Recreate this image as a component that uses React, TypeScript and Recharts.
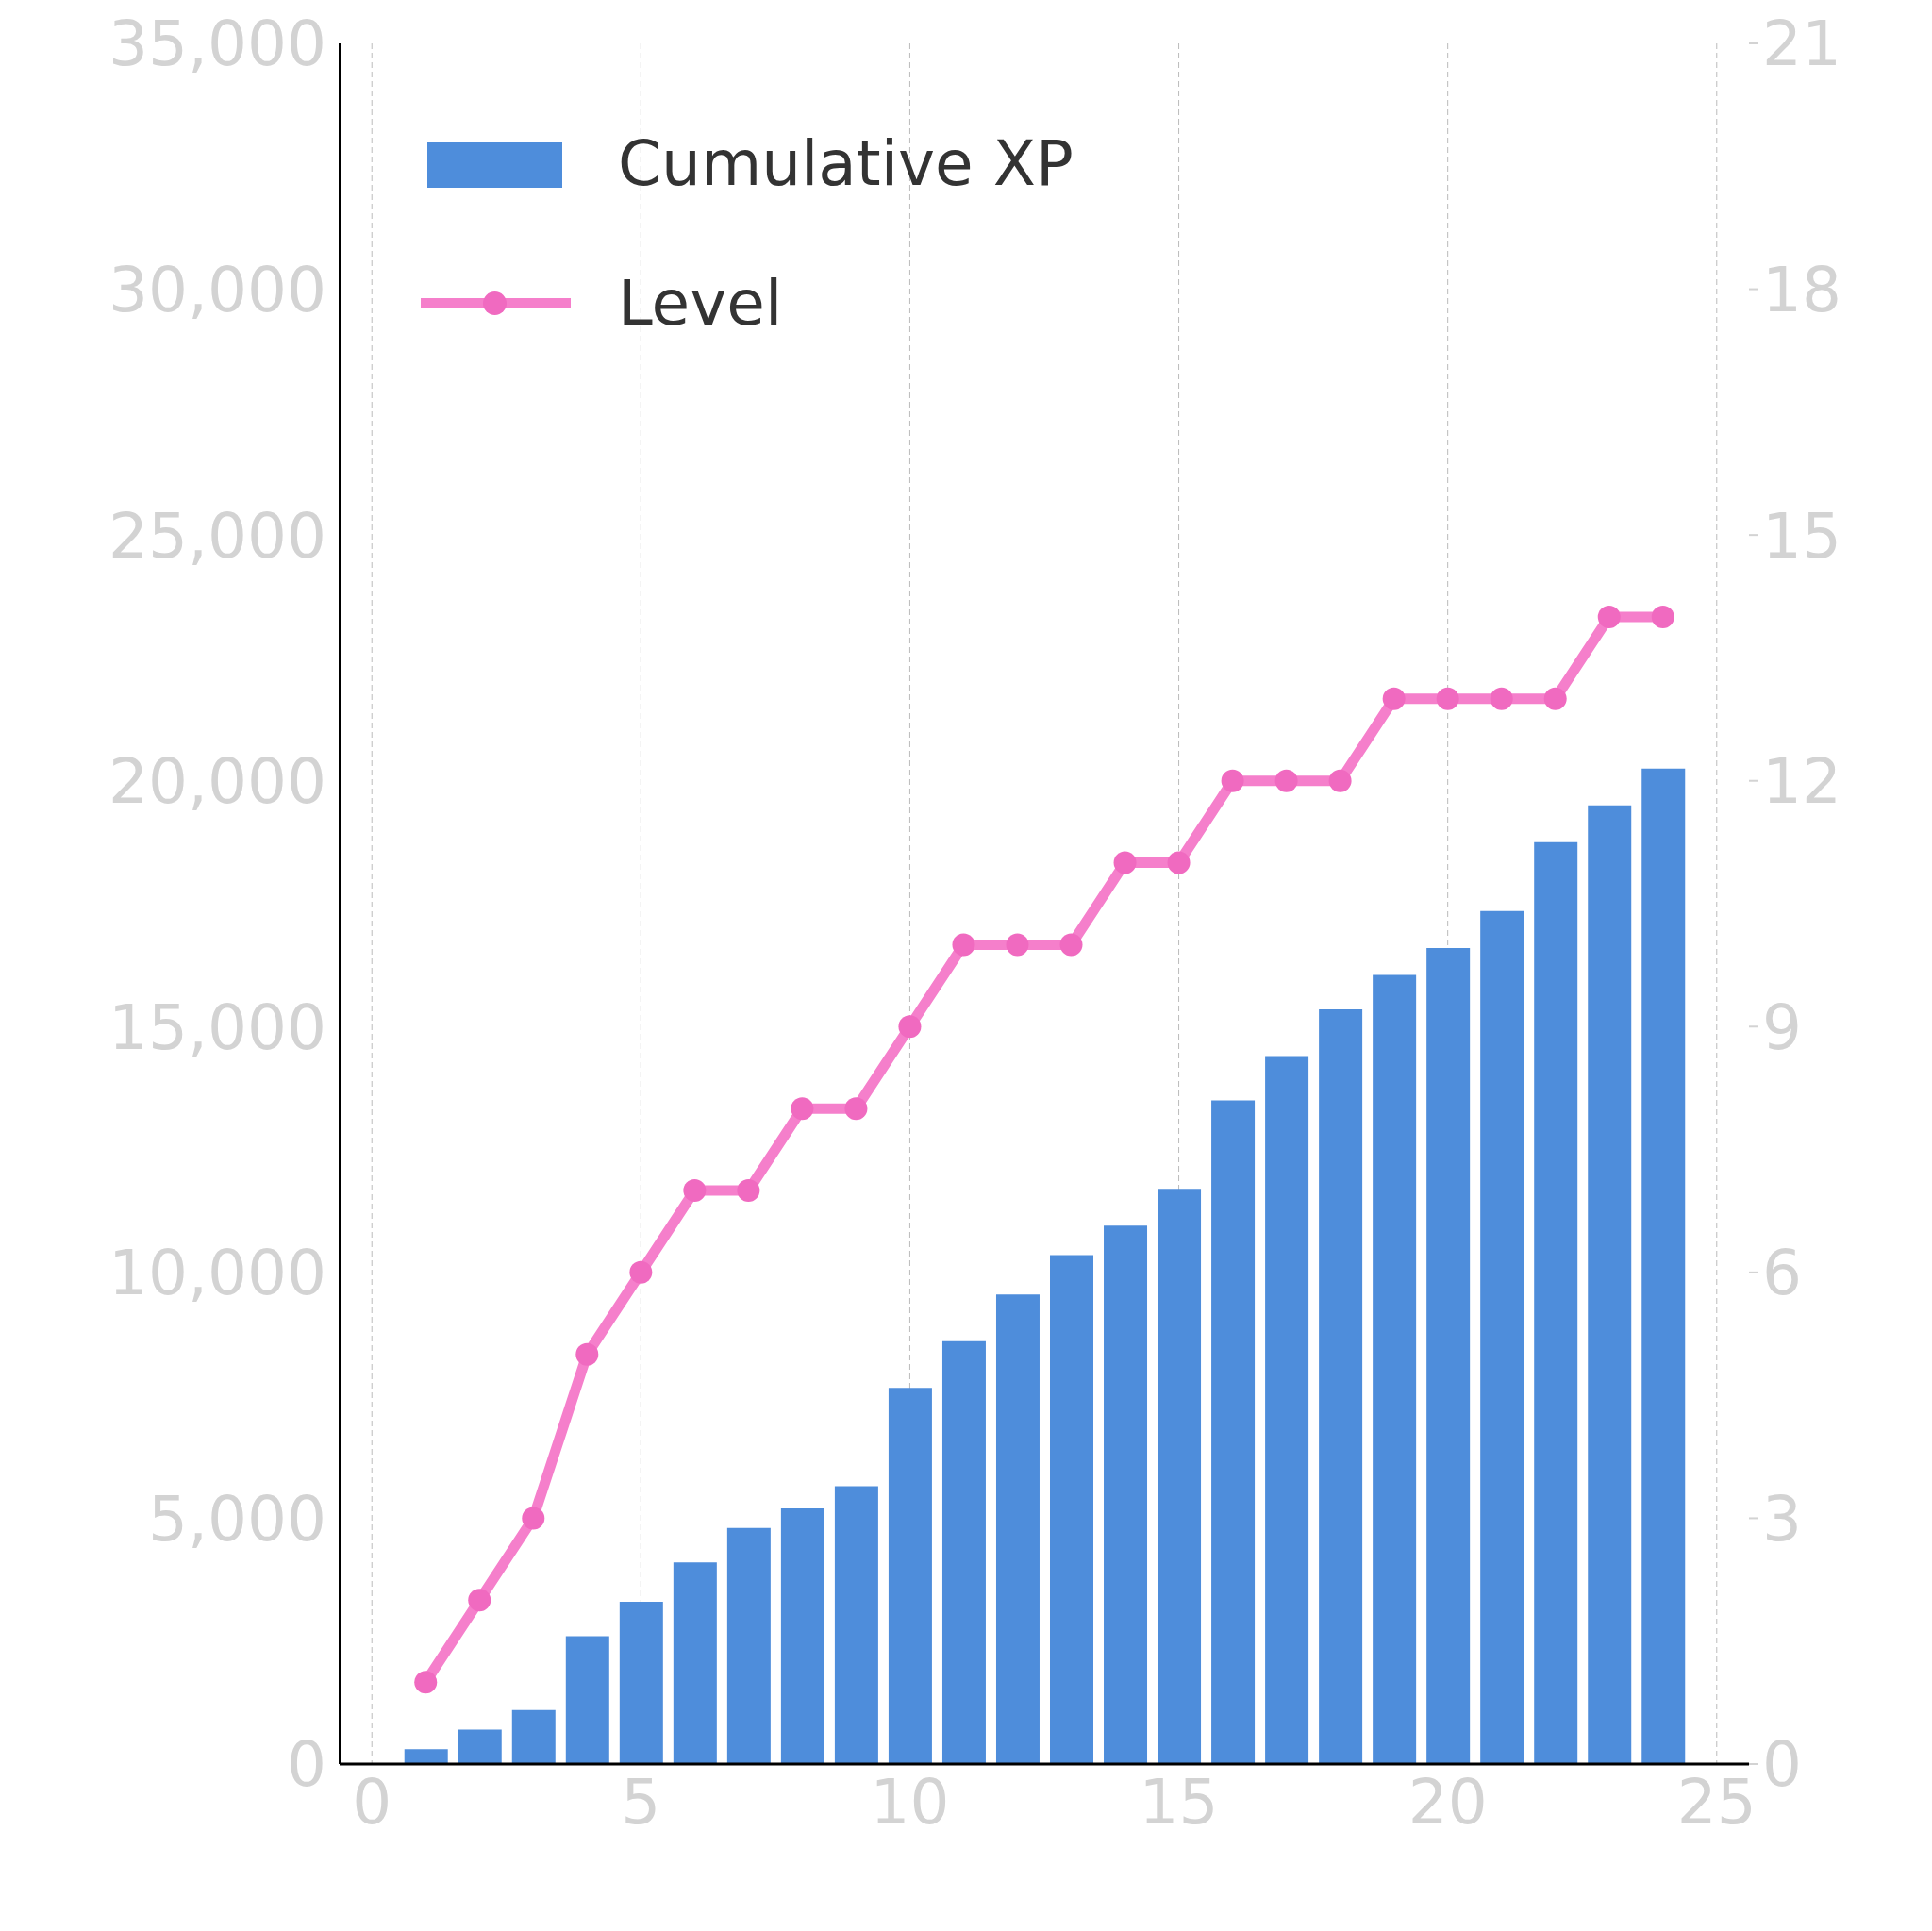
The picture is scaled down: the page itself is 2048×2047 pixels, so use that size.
import { Bar, CartesianGrid, ComposedChart, Line, XAxis, YAxis } from "recharts";

const levels = [1, 2, 3, 4, 5, 6, 7, 8, 9, 10, 11, 12, 13, 14, 15, 16, 17, 18, 19, 20, 21, 22, 23, 24];
const cumulativeXp = [
  300, 700, 1100, 2600, 3300, 4100, 4800, 5200, 5650, 7650, 8600, 9550,
  10350, 10950, 11700, 13500, 14400, 15350, 16050, 16600, 17350, 18750, 19500, 20250,
];
const levelValues = [1, 2, 3, 5, 6, 7, 7, 8, 8, 9, 10, 10, 10, 11, 11, 12, 12, 12, 13, 13, 13, 13, 14, 14];
const xTicks = [0, 5, 10, 15, 20, 25];
const leftTicks = [0, 5000, 10000, 15000, 20000, 25000, 30000, 35000];
const rightTicks = [0, 3, 6, 9, 12, 15, 18, 21];

const BLUE = "#4e8ddb";
const PINK = "#f57fcb";
const TICK = { fill: "#d3d3d3", fontSize: 66, fontFamily: "DejaVu Sans" };

const data = levels.map((x, i) => ({ x, xp: cumulativeXp[i], level: levelValues[i] }));

export default function App() {
  return (
    <div style={{ position: "absolute", left: 0, top: 0, width: 2048, height: 2047, background: "#fff", fontFamily: "DejaVu Sans" }}>
      <ComposedChart width={2048} height={2047} data={data} margin={{ top: 46, right: 0, bottom: 0, left: 0 }}>
        <CartesianGrid stroke="#bbbbbb" strokeDasharray="6 4" horizontalValues={leftTicks} verticalValues={xTicks} />
        <XAxis
          dataKey="x"
          type="number"
          domain={[-0.6, 25.6]}
          ticks={xTicks}
          allowDataOverflow
          height={177}
          tick={TICK}
          tickLine={false}
          axisLine={{ stroke: "#000", strokeWidth: 3 }}
          tickMargin={10}
        />
        <YAxis
          yAxisId="left"
          domain={[0, 35000]}
          ticks={leftTicks}
          width={360}
          tick={TICK}
          tickFormatter={(v: number) => v.toLocaleString("en-US")}
          tickLine={false}
          axisLine={{ stroke: "#000", strokeWidth: 2 }}
          tickMargin={8}
        />
        <YAxis
          yAxisId="right"
          orientation="right"
          domain={[0, 21]}
          ticks={rightTicks}
          width={194}
          tick={TICK}
          tickLine={{ stroke: "#d3d3d3", strokeWidth: 2 }}
          tickSize={10}
          axisLine={false}
          tickMargin={4}
        />
        <Bar yAxisId="left" dataKey="xp" fill={BLUE} barSize={46} isAnimationActive={false} />
        <Line
          yAxisId="right"
          dataKey="level"
          stroke={PINK}
          strokeWidth={11}
          dot={{ r: 12, fill: "#f06ac0", stroke: "#f06ac0", strokeWidth: 0 }}
          isAnimationActive={false}
        />
      </ComposedChart>
      <div style={{ position: "absolute", left: 453, top: 151, width: 143, height: 48, background: BLUE }} />
      <div style={{ position: "absolute", left: 655, top: 138, fontSize: 66, color: "#333", lineHeight: "72px" }}>Cumulative XP</div>
      <div style={{ position: "absolute", left: 446, top: 316, width: 159, height: 11, background: PINK }} />
      <div style={{ position: "absolute", left: 512, top: 309, width: 25, height: 25, borderRadius: "50%", background: "#f06ac0" }} />
      <div style={{ position: "absolute", left: 655, top: 286, fontSize: 66, color: "#333", lineHeight: "72px" }}>Level</div>
    </div>
  );
}
